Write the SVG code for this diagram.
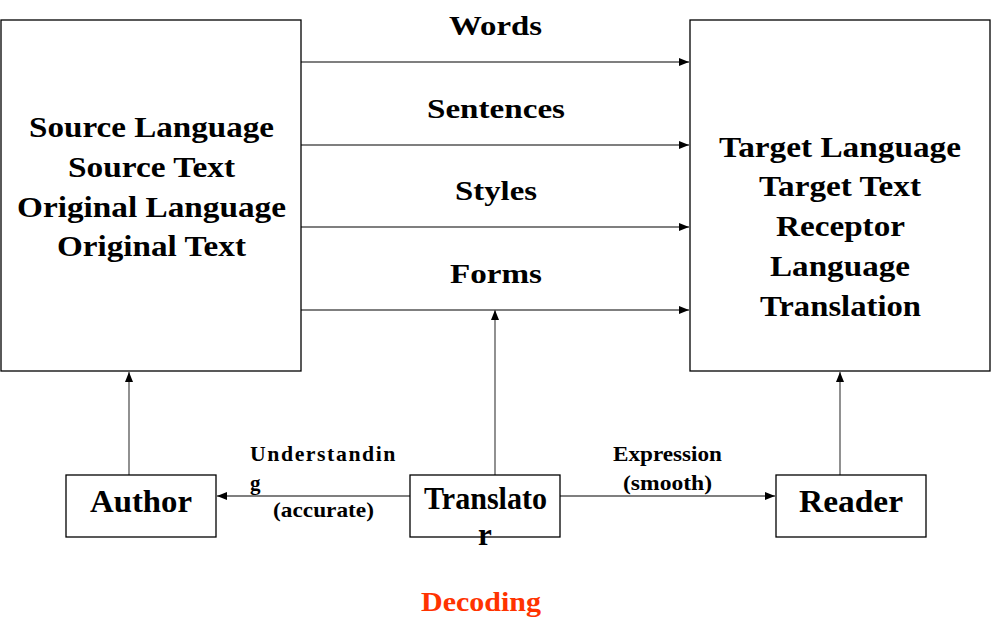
<svg xmlns="http://www.w3.org/2000/svg" width="992" height="621" viewBox="0 0 992 621">
<style>
.box{fill:#fff;stroke:#000;stroke-width:1.3}
.t{font-family:"Liberation Serif","Times New Roman",serif;font-weight:bold;fill:#000;text-anchor:middle}
.big{font-size:29px}
.lbl{font-size:28px}
.nd{font-size:31px}
.sm{font-size:21px}
.ln{stroke:#555;stroke-width:1.3;fill:none}
</style>
<defs>
<marker id="ah" markerWidth="10" markerHeight="8" refX="10" refY="4" orient="auto" markerUnits="userSpaceOnUse">
<path d="M0,0 L10,4 L0,8 Z" fill="#000"/>
</marker>
</defs>
<rect width="992" height="621" fill="#fff"/>
<g id="connectors">
<line class="ln" x1="301" y1="62" x2="689" y2="62" marker-end="url(#ah)"/>
<line class="ln" x1="301" y1="145" x2="689" y2="145" marker-end="url(#ah)"/>
<line class="ln" x1="301" y1="227" x2="689" y2="227" marker-end="url(#ah)"/>
<line class="ln" x1="301" y1="310" x2="689" y2="310" marker-end="url(#ah)"/>
<line class="ln" x1="129" y1="475" x2="129" y2="372" marker-end="url(#ah)"/>
<line class="ln" x1="840" y1="475" x2="840" y2="372" marker-end="url(#ah)"/>
<line class="ln" x1="495" y1="475" x2="495" y2="310" marker-end="url(#ah)"/>
<line class="ln" x1="410" y1="496" x2="217" y2="496" marker-end="url(#ah)"/>
<line class="ln" x1="560" y1="496" x2="775" y2="496" marker-end="url(#ah)"/>
<text class="t lbl" x="495.5" y="35" textLength="93" lengthAdjust="spacingAndGlyphs">Words</text>
<text class="t lbl" x="496" y="118" textLength="138" lengthAdjust="spacingAndGlyphs">Sentences</text>
<text class="t lbl" x="496" y="200" textLength="82" lengthAdjust="spacingAndGlyphs">Styles</text>
<text class="t lbl" x="496" y="283" textLength="92" lengthAdjust="spacingAndGlyphs">Forms</text>
<text class="t sm" x="250" y="461" style="text-anchor:start;letter-spacing:1.5px" textLength="147" lengthAdjust="spacingAndGlyphs">Understandin</text>
<text class="t sm" x="250" y="490" style="text-anchor:start">g</text>
<text class="t sm" x="323.5" y="517" textLength="101" lengthAdjust="spacingAndGlyphs">(accurate)</text>
<text class="t sm" x="667.5" y="461" textLength="109" lengthAdjust="spacingAndGlyphs">Expression</text>
<text class="t sm" x="667.5" y="490" textLength="89" lengthAdjust="spacingAndGlyphs">(smooth)</text>
</g>
<g id="source">
<rect class="box" x="1" y="20" width="300" height="351"/>
<text class="t big" x="151.5" y="137" textLength="245" lengthAdjust="spacingAndGlyphs">Source Language</text>
<text class="t big" x="151.5" y="177" textLength="167" lengthAdjust="spacingAndGlyphs">Source Text</text>
<text class="t big" x="151.5" y="217" textLength="269" lengthAdjust="spacingAndGlyphs">Original Language</text>
<text class="t big" x="151.5" y="256" textLength="189" lengthAdjust="spacingAndGlyphs">Original Text</text>
</g>
<g id="target">
<rect class="box" x="690" y="20" width="300" height="351"/>
<text class="t big" x="840" y="157" textLength="242" lengthAdjust="spacingAndGlyphs">Target Language</text>
<text class="t big" x="840" y="196" textLength="162" lengthAdjust="spacingAndGlyphs">Target Text</text>
<text class="t big" x="840.5" y="236" textLength="129" lengthAdjust="spacingAndGlyphs">Receptor</text>
<text class="t big" x="840" y="276" textLength="140" lengthAdjust="spacingAndGlyphs">Language</text>
<text class="t big" x="840.5" y="316" textLength="161" lengthAdjust="spacingAndGlyphs">Translation</text>
</g>
<g id="author">
<rect class="box" x="66" y="475" width="150" height="62"/>
<text class="t nd" x="141" y="512" textLength="102" lengthAdjust="spacingAndGlyphs">Author</text>
</g>
<g id="translator">
<rect class="box" x="410" y="475" width="150" height="62"/>
<text class="t nd" x="485.5" y="509" textLength="123" lengthAdjust="spacingAndGlyphs">Translato</text>
<text class="t nd" x="485" y="545">r</text>
</g>
<g id="reader">
<rect class="box" x="776" y="475" width="150" height="62"/>
<text class="t nd" x="851" y="512" textLength="104" lengthAdjust="spacingAndGlyphs">Reader</text>
</g>
<text class="t lbl" x="481" y="611" style="fill:#ff3300" textLength="120" lengthAdjust="spacingAndGlyphs">Decoding</text>
</svg>
